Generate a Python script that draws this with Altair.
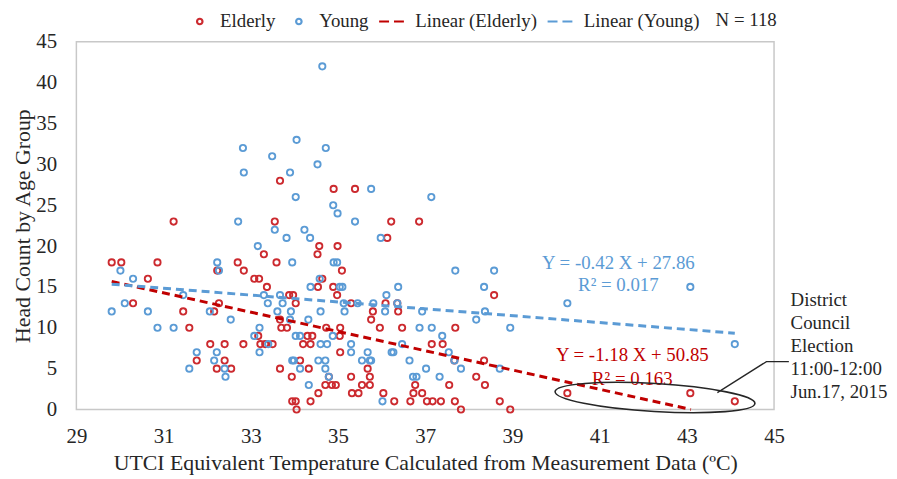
import altair as alt
import pandas as pd

# ---------------- data ----------------
elderly_x = [31.23, 33.30, 29.81, 30.03, 30.86, 32.70, 32.23, 32.84, 30.64, 33.08,
             33.19, 33.37, 32.27, 30.30, 31.45, 32.16, 31.59, 33.17, 32.07, 32.40,
             32.83, 33.22, 31.76, 32.40, 32.22, 32.55,
             33.67, 34.90, 35.39, 33.55, 36.22, 36.86, 36.13,
             34.57, 34.99, 34.53, 33.59, 35.09, 34.64, 34.54, 34.89, 34.98, 33.88,
             33.97, 34.03, 33.67, 33.70, 33.83, 34.73, 34.30, 34.41, 35.04, 33.33,
             33.50, 34.20, 34.37, 35.05, 34.13, 33.67, 34.33, 33.94, 34.79, 34.71,
             34.86, 34.95, 34.55, 33.95, 34.03, 34.37, 34.05,
             35.30, 36.09, 36.36, 35.80, 36.38, 35.76, 35.05, 35.96, 36.47, 37.69,
             37.15, 37.40, 37.67, 35.68, 35.30, 35.73, 35.55, 35.73, 36.77, 37.55,
             35.32, 35.47, 36.04, 36.73, 36.93, 36.29, 36.66, 37.04, 37.17, 37.36,
             37.68, 37.82,
             38.58, 38.35, 38.17, 38.37, 38.71, 38.95, 40.26, 43.08, 44.10]
elderly_y = [23, 19, 18, 18, 18, 18, 17, 17, 16, 16,
             16, 15, 13, 13, 12, 12, 10, 9, 8, 8,
             8, 8, 6, 6, 5, 5,
             28, 27, 27, 23, 23, 23, 21,
             20, 20, 19, 18, 17, 16, 15, 15, 14, 14,
             14, 13, 11, 10, 10, 10, 9, 9, 9, 8,
             8, 8, 8, 7, 6, 5, 5, 4, 4, 3,
             3, 3, 2, 1, 1, 1, 0,
             13, 13, 13, 12, 12, 11, 10, 10, 10, 10,
             8, 8, 6, 5, 4, 4, 3, 3, 3, 3,
             2, 2, 2, 2, 2, 1, 1, 1, 1, 1,
             1, 0,
             14, 6, 4, 3, 1, 0, 2, 2, 1]

young_x = [32.84, 32.71, 33.16, 32.23, 30.01, 32.27, 30.30, 31.45, 33.30, 30.11,
           29.81, 30.64, 32.06, 32.54, 30.86, 31.23, 33.20, 33.08, 33.40, 31.76,
           32.22, 33.20, 32.16, 31.59, 32.40, 32.42,
           32.82,
           34.64, 34.05, 34.72, 33.49, 34.53, 33.90, 35.76, 34.03, 37.14, 34.89,
           34.99, 35.39, 33.55, 34.23, 33.82, 34.36, 35.98,
           33.95, 34.90, 34.98, 34.58, 34.37, 35.04, 35.10, 36.38, 33.67, 36.11,
           33.39, 33.73, 35.13, 35.45, 35.81, 36.36, 33.61, 33.92, 34.60, 35.15,
           36.08, 33.90, 34.32, 36.87, 37.15, 34.03, 34.13, 34.88, 37.39, 34.60,
           34.75, 35.30, 36.47, 35.30, 35.68, 36.23, 36.27, 37.54, 33.95, 33.99,
           34.55, 34.71, 35.55, 35.73, 35.76, 36.64, 37.67, 34.13, 34.71, 37.02,
           34.79, 36.72, 36.80, 37.33, 34.33, 36.02, 36.93, 37.82,
           37.69, 38.58, 38.35, 40.26, 38.37, 38.17, 38.95, 38.71, 43.08, 44.10]
young_y = [29, 23, 20, 18, 17, 17, 16, 14, 14, 13,
           12, 12, 12, 11, 10, 10, 10, 9, 8, 7,
           7, 7, 6, 5, 5, 4,
           32,
           42, 33, 32, 31, 30, 29, 27, 26, 26, 25,
           24, 23, 22, 22, 21, 21, 21,
           18, 18, 18, 16, 15, 15, 15, 15, 14, 14,
           13, 13, 13, 13, 13, 13, 12, 12, 12, 12,
           12, 11, 11, 10, 10, 9, 9, 9, 9, 8,
           8, 8, 8, 7, 7, 7, 7, 7, 6, 6,
           6, 6, 6, 6, 6, 6, 6, 5, 5, 5,
           4, 4, 4, 4, 3, 1, 12, 5,
           17, 17, 15, 13, 12, 11, 10, 5, 15, 8]

series_names = ["Elderly", "Young", "Linear (Elderly)", "Linear (Young)"]
trend_slopes = [-1.18, -0.42]
trend_intercepts = [50.85, 27.86]
trend_r2 = [0.163, 0.017]
sample_size = 118

x_ticks = [29, 31, 33, 35, 37, 39, 41, 43, 45]
y_ticks = [0, 5, 10, 15, 20, 25, 30, 35, 40, 45]

note_lines = ["District", "Council", "Election", "11:00-12:00", "Jun.17, 2015"]

x_title = "UTCI Equivalent Temperature Calculated from Measurement Data (ºC)"
y_title = "Head Count by Age Group"

# ---------------- styles ----------------
FONT = "Liberation Serif"
TEXT = "#262626"
RED_PT = "#cc2a2f"
BLUE = "#5b9bd5"
RED_LN = "#c00000"

CIRC = "M0.06,0A0.22,0.22 0 1,1 0.5,0A0.22,0.22 0 1,1 0.06,0"
DASH = "M-1,0H-0.2M0.2,0H1"
ELLIPSE = "M-1,0A1,0.14 0 1,0 1,0A1,0.14 0 1,0 -1,0"

# ---------------- tables ----------------
points = pd.DataFrame({
    "temp": elderly_x + young_x,
    "count": elderly_y + young_y,
    "series": ["Elderly"] * len(elderly_x) + ["Young"] * len(young_x),
})

line_rows = []
for name, m, b, xs in zip(series_names[2:], trend_slopes, trend_intercepts,
                          [elderly_x, young_x]):
    x0, x1 = min(xs), max(xs)
    if m * x1 + b < 0:
        x1 = -b / m
    line_rows.append({"series": name, "temp": x0, "count": m * x0 + b})
    line_rows.append({"series": name, "temp": x1, "count": m * x1 + b})
lines = pd.DataFrame(line_rows)

eq_text = []
eq_color = []
for m, b, r2, col in zip(trend_slopes, trend_intercepts, trend_r2, [RED_LN, BLUE]):
    eq_text += [f"Y = {m:.2f} X + {b:.2f}", f"R² = {r2:.3f}"]
    eq_color += [col, col]
eq_pos_x = [41.75, 41.75, 41.43, 41.43]
eq_pos_y = [6.61, 3.76, 17.96, 15.29]
equations = pd.DataFrame({"temp": eq_pos_x, "count": eq_pos_y,
                          "label": eq_text, "color": eq_color})

legend_df = pd.DataFrame({"series": series_names, "temp": [30] * 4, "count": [-1] * 4})

# ---------------- scales / encodings ----------------
xscale = alt.Scale(domain=[29, 45], nice=False, zero=False)
yscale = alt.Scale(domain=[0, 45], nice=False)

xaxis = alt.Axis(values=x_ticks, title=x_title, format="d", grid=False, ticks=False,
                 tickSize=0, domain=False, labelPadding=16, titlePadding=7,
                 labelFont=FONT, labelFontSize=21, labelColor=TEXT,
                 titleFont=FONT, titleFontSize=22, titleFontWeight="normal",
                 titleColor=TEXT, labelFlush=False)
yaxis = alt.Axis(values=y_ticks, title=y_title, format="d", grid=False, ticks=False,
                 tickSize=0, domain=False, labelPadding=20, titlePadding=1,
                 labelFont=FONT, labelFontSize=21, labelColor=TEXT,
                 titleFont=FONT, titleFontSize=22, titleFontWeight="normal",
                 titleColor=TEXT, labelFlush=False)

X = alt.X("temp:Q", scale=xscale, axis=xaxis)
Y = alt.Y("count:Q", scale=yscale, axis=yaxis)

scatter = alt.Chart(points).mark_point(filled=False, size=40, strokeWidth=1.9,
                                        opacity=1, shape="circle").encode(
    x=X, y=Y,
    stroke=alt.Stroke("series:N", scale=alt.Scale(domain=series_names[:2],
                                                   range=[RED_PT, BLUE]), legend=None),
)

trend = alt.Chart(lines).mark_line(strokeWidth=3, strokeDash=[8, 5]).encode(
    x=X, y=Y,
    stroke=alt.Stroke("series:N", scale=alt.Scale(domain=series_names[2:],
                                                   range=[RED_LN, BLUE]), legend=None),
)

leg = alt.Legend(title=None, orient="none", legendX=107, legendY=-34.5,
                 direction="horizontal", columns=4, gridAlign="each",
                 symbolSize=625, symbolStrokeWidth=2.2, symbolOpacity=1,
                 symbolFillColor="transparent",
                 labelFont=FONT, labelFontSize=19, labelColor=TEXT,
                 labelOffset=10, columnPadding=6, padding=0, labelLimit=400)

legend_layer = alt.Chart(legend_df).transform_filter("datum.count >= 0").mark_point(
    filled=False).encode(
    x=X, y=Y,
    stroke=alt.Stroke("series:N", scale=alt.Scale(domain=series_names,
                                                   range=[RED_PT, BLUE, RED_LN, BLUE]),
                      legend=leg),
    shape=alt.Shape("series:N", scale=alt.Scale(domain=series_names,
                                                 range=[CIRC, CIRC, DASH, DASH]),
                    legend=leg),
)

eq_layer = alt.Chart(equations).mark_text(font=FONT, fontSize=19, align="center",
                                          baseline="middle").encode(
    x=X, y=Y, text="label:N", color=alt.Color("color:N", scale=None))

n_df = pd.DataFrame({"temp": [43.66], "count": [47.67], "label": [f"N = {sample_size}"]})
n_layer = alt.Chart(n_df).mark_text(font=FONT, fontSize=19, align="left",
                                    baseline="middle", color=TEXT).encode(
    x=X, y=Y, text="label:N")

ellipse_df = pd.DataFrame({"temp": [42.27], "count": [1.46]})
ellipse = alt.Chart(ellipse_df).mark_point(shape=ELLIPSE, size=40804, filled=False,
                                           stroke="#262626", strokeWidth=1.6,
                                           angle=3.4, opacity=1).encode(x=X, y=Y)

leader_df = pd.DataFrame({"temp": [43.70, 44.825, 45.34], "count": [2.06, 5.86, 5.86]})
leader = alt.Chart(leader_df).mark_line(color="#262626", strokeWidth=1.3).encode(x=X, y=Y)

note_df = pd.DataFrame({"temp": [45.38], "count": [13.34], "label": ["\n".join(note_lines)]})
note = alt.Chart(note_df).mark_text(font=FONT, fontSize=19, align="left",
                                    baseline="middle", lineBreak="\n", lineHeight=23,
                                    color=TEXT).encode(x=X, y=Y, text="label:N")

chart = alt.layer(scatter, trend, legend_layer, eq_layer, n_layer, ellipse, leader, note
                  ).resolve_scale(stroke="independent", shape="independent").properties(
    width=704, height=371,
    autosize=alt.AutoSizeParams(type="none"),
    padding={"left": 69, "top": 32, "right": 116, "bottom": 65},
    background="white",
).configure_view(stroke="#c8c8c8", strokeWidth=1.5)

chart.save("out.html", embed_options={"renderer": "svg", "actions": False})
